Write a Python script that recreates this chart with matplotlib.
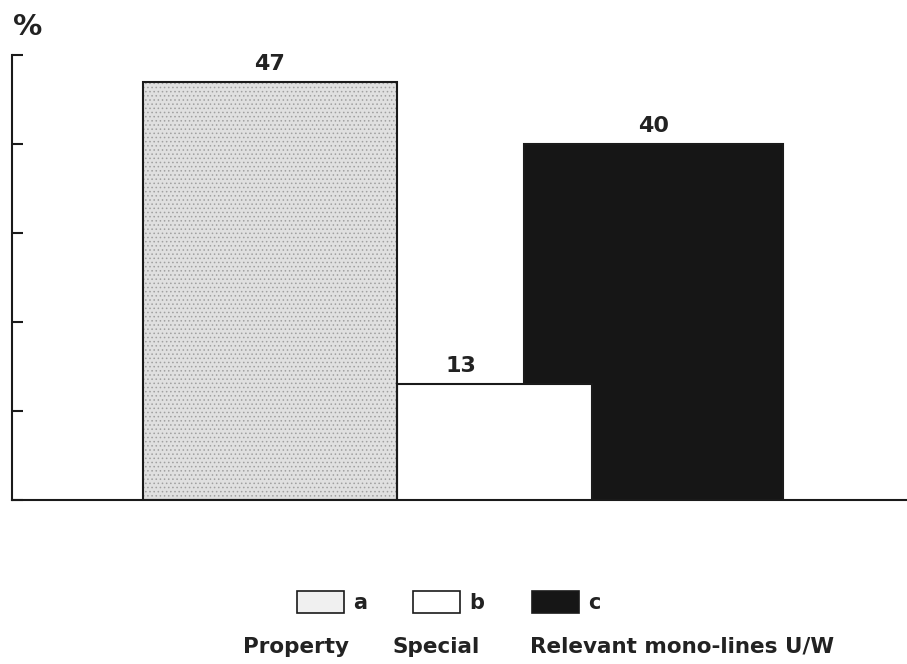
import matplotlib
matplotlib.use("Agg")
import matplotlib.pyplot as plt
from matplotlib.patches import Rectangle

# share of business by line, in percent
categories = ["Property", "Special", "Relevant mono-lines U/W"]
letters = ["a", "b", "c"]
values = [47, 13, 40]

plt.rcParams["font.family"] = ["DejaVu Sans"]
plt.rcParams["font.weight"] = "bold"
plt.rcParams["hatch.linewidth"] = 0.6
INK = "#222222"

W, H = 907, 664
fig = plt.figure(figsize=(W / 100, H / 100), dpi=100)
ax = fig.add_axes([12 / W, (H - 500) / H, 895 / W, 445 / H])
ax.set_xlim(0, 895)
ax.set_ylim(0, 50)

# bar geometry (x in axis pixels); c is drawn first so b overlaps it
lefts = [131, 385, 512]
widths = [254, 195, 259]
faces = ["#e0e0e0", "white", "#161616"]
for i in [2, 1, 0]:
    if i == 0:
        ax.bar(lefts[i], values[i], width=widths[i], align="edge",
               color=faces[i], edgecolor="#a0a0a0", linewidth=0,
               hatch="....", zorder=2)
        ax.bar(lefts[i], values[i], width=widths[i], align="edge",
               fill=False, edgecolor="#1a1a1a", linewidth=1.5, zorder=3)
    else:
        ax.bar(lefts[i], values[i], width=widths[i], align="edge",
               color=faces[i], edgecolor="#1a1a1a", linewidth=1.5,
               zorder=3 if i == 1 else 2)

# value labels
label_x = [lefts[0] + widths[0] / 2, (lefts[1] + lefts[2]) / 2, lefts[2] + widths[2] / 2]
for x, v in zip(label_x, values):
    ax.text(x, v + 0.9, str(v), ha="center", va="bottom",
            fontsize=16, color=INK)

for s in ["top", "right"]:
    ax.spines[s].set_visible(False)
for s in ["left", "bottom"]:
    ax.spines[s].set_linewidth(1.5)
    ax.spines[s].set_color("#1a1a1a")
ax.set_yticks(range(0, 51, 10))
ax.set_yticklabels([])
ax.tick_params(axis="y", direction="in", length=8, width=1.5, color="#1a1a1a")
ax.set_xticks([])

fig.text(13 / W, 1 - 27 / H, "%", ha="left", va="center",
         fontsize=21, color=INK)

# legend: small boxes with letters, names underneath
box_x = [297, 413, 532]
box_w = 47
box_y = 601
for i in range(3):
    r = Rectangle((box_x[i] / W, 1 - (box_y + 12) / H), box_w / W, 22 / H,
                  transform=fig.transFigure,
                  facecolor="#f0f0f0" if i == 0 else faces[i],
                  edgecolor="#1a1a1a", linewidth=1.2)
    fig.add_artist(r)
    fig.text((box_x[i] + box_w + 9) / W, 1 - (box_y + 2) / H, letters[i],
             ha="left", va="center", fontsize=15, color=INK)

# category names, each sized to its span
name_span = [(243, 352), (393, 483), (530, 857)]
renderer = fig.canvas.get_renderer()
for (x0, x1), name in zip(name_span, categories):
    t = fig.text(x0 / W, 1 - 647 / H, name, ha="left", va="center",
                 fontsize=14, color=INK)
    w = t.get_window_extent(renderer).width
    t.set_fontsize(min(15.5, 14 * (x1 - x0) / w))

fig.savefig("out.png", dpi=100)
